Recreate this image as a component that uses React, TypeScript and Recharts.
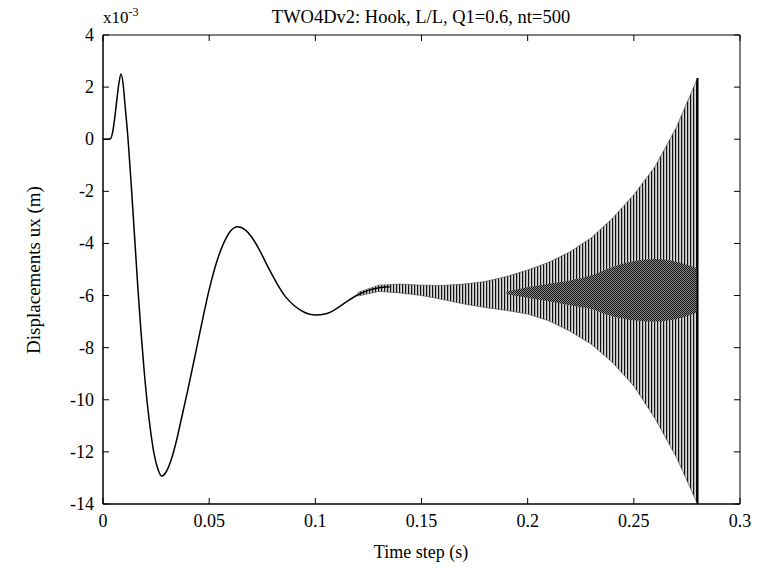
import React from 'react';
import { ComposedChart, Line, Area, XAxis, YAxis } from 'recharts';

// smooth response before the instability sets in (ux in 1e-3 m)
const curveTime = [
  0, 0.002, 0.0035, 0.0045, 0.0055, 0.0065, 0.0075, 0.0085, 0.0095, 0.0105,
  0.0118, 0.0135, 0.015, 0.0165, 0.018, 0.0195, 0.021, 0.0225, 0.024, 0.0258,
  0.0276, 0.0295, 0.032, 0.0345, 0.037, 0.04, 0.0435, 0.047, 0.05, 0.0535,
  0.057, 0.06, 0.0634, 0.067, 0.07, 0.074, 0.078, 0.082, 0.086, 0.09, 0.095,
  0.1, 0.105, 0.11, 0.115, 0.12, 0.125, 0.13, 0.135,
];
const curveValue = [
  0, 0, 0.02, 0.25, 0.8, 1.5, 2.15, 2.5, 2.1, 1.2,
  0, -2.0, -3.9, -5.8, -7.5, -9.0, -10.25, -11.25, -12.05, -12.65,
  -12.93, -12.8, -12.33, -11.6, -10.7, -9.6, -8.25, -6.88, -5.77, -4.72,
  -3.96, -3.53, -3.36, -3.48, -3.75, -4.3, -4.95, -5.55, -6.05, -6.38, -6.65,
  -6.75, -6.7, -6.5, -6.22, -5.97, -5.8, -5.7, -5.66,
];

// envelope of the step-to-step oscillation
const bandTime = [0.12, 0.13, 0.14, 0.15, 0.16, 0.17, 0.18, 0.19, 0.2, 0.21, 0.22, 0.23, 0.24, 0.25, 0.26, 0.27, 0.28];
const bandTop = [-5.88, -5.6, -5.56, -5.6, -5.61, -5.56, -5.46, -5.27, -5.02, -4.72, -4.32, -3.78, -3.03, -2.13, -1.05, 0.45, 2.35];
const bandBottom = [-6.02, -5.84, -5.9, -6.0, -6.15, -6.32, -6.46, -6.57, -6.71, -6.97, -7.37, -7.87, -8.57, -9.47, -10.72, -12.2, -14];

// dense core of the oscillation
const coreTime = [0.19, 0.2, 0.21, 0.22, 0.23, 0.24, 0.25, 0.26, 0.27, 0.28];
const coreTop = [-5.85, -5.68, -5.55, -5.42, -5.22, -4.9, -4.68, -4.6, -4.7, -4.95];
const coreBottom = [-5.95, -6.08, -6.22, -6.37, -6.52, -6.8, -6.95, -7.0, -6.9, -6.65];

// last time step drawn as a full swing
const lastStepTime = [0.28, 0.28];
const lastStepValue = [2.35, -14];

const xTicks = [0, 0.05, 0.1, 0.15, 0.2, 0.25, 0.3];
const yTicks = [-14, -12, -10, -8, -6, -4, -2, 0, 2, 4];

const curve = curveTime.map((t, i) => ({ t, ux: curveValue[i] }));
const band = bandTime.map((t, i) => ({ t, range: [bandBottom[i], bandTop[i]] }));
const core = coreTime.map((t, i) => ({ t, range: [coreBottom[i], coreTop[i]] }));
const lastStep = lastStepTime.map((t, i) => ({ t, ux: lastStepValue[i] }));

const FONT = '"Liberation Serif", "Times New Roman", serif';
const TICK_LEN = 6;

const BottomTick = (props: any) => {
  const { x, y, payload } = props;
  return (
    <g>
      <line x1={x} y1={y} x2={x} y2={y - TICK_LEN} stroke="#000" />
      <text x={x} y={y + 23} textAnchor="middle" fontFamily={FONT} fontSize={18} fill="#000">
        {payload.value}
      </text>
    </g>
  );
};

const LeftTick = (props: any) => {
  const { x, y, payload } = props;
  return (
    <g>
      <line x1={x} y1={y} x2={x + TICK_LEN} y2={y} stroke="#000" />
      <text x={x - 9} y={y + 6} textAnchor="end" fontFamily={FONT} fontSize={18} fill="#000">
        {payload.value}
      </text>
    </g>
  );
};

const TopTick = (props: any) => {
  const { x, y } = props;
  return <line x1={x} y1={y} x2={x} y2={y + TICK_LEN} stroke="#000" />;
};

const RightTick = (props: any) => {
  const { x, y } = props;
  return <line x1={x} y1={y} x2={x - TICK_LEN} y2={y} stroke="#000" />;
};

export default function App() {
  return (
    <div style={{ position: 'absolute', left: 0, top: 0, width: 760, height: 575, background: '#fff' }}>
      <ComposedChart width={760} height={575} margin={{ top: 25, right: 10, bottom: 41, left: 63 }}>
        <defs>
          <pattern id="hatch" width="3" height="4" patternUnits="userSpaceOnUse">
            <rect width="3" height="4" fill="#d8d8d8" />
            <rect width="1.2" height="4" fill="#111" />
          </pattern>
          <pattern id="dense" width="2" height="2" patternUnits="userSpaceOnUse">
            <rect width="2" height="2" fill="#8a8a8a" />
            <rect width="1" height="1" fill="#111" />
            <rect x="1" y="1" width="1" height="1" fill="#111" />
          </pattern>
        </defs>
        <XAxis
          dataKey="t"
          type="number"
          domain={[0, 0.3]}
          ticks={xTicks}
          height={30}
          tickSize={0}
          tickMargin={0}
          tickLine={false}
          tick={<BottomTick />}
          axisLine={{ stroke: '#000', strokeWidth: 1.5 }}
          allowDataOverflow
        />
        <XAxis
          xAxisId="top"
          orientation="top"
          dataKey="t"
          type="number"
          domain={[0, 0.3]}
          ticks={xTicks}
          height={10}
          tickSize={0}
          tickMargin={0}
          tickLine={false}
          tick={<TopTick />}
          axisLine={{ stroke: '#000' }}
          allowDataOverflow
        />
        <YAxis
          type="number"
          domain={[-14, 4]}
          ticks={yTicks}
          width={40}
          tickSize={0}
          tickMargin={0}
          tickLine={false}
          tick={<LeftTick />}
          axisLine={{ stroke: '#000', strokeWidth: 1.5 }}
          allowDataOverflow
        />
        <YAxis
          yAxisId="right"
          orientation="right"
          type="number"
          domain={[-14, 4]}
          ticks={yTicks}
          width={10}
          tickSize={0}
          tickMargin={0}
          tickLine={false}
          tick={<RightTick />}
          axisLine={{ stroke: '#000' }}
          allowDataOverflow
        />
        <Area
          data={band}
          dataKey="range"
          type="linear"
          fill="url(#hatch)"
          fillOpacity={1}
          stroke="#444"
          strokeWidth={0.6}
          isAnimationActive={false}
          dot={false}
          activeDot={false}
        />
        <Area
          data={core}
          dataKey="range"
          type="monotone"
          fill="url(#dense)"
          fillOpacity={1}
          stroke="none"
          isAnimationActive={false}
          dot={false}
          activeDot={false}
        />
        <Line
          data={curve}
          dataKey="ux"
          type="monotone"
          stroke="#000"
          strokeWidth={1.5}
          dot={false}
          activeDot={false}
          isAnimationActive={false}
        />
        <Line
          data={lastStep}
          dataKey="ux"
          type="linear"
          stroke="#000"
          strokeWidth={2}
          dot={false}
          activeDot={false}
          isAnimationActive={false}
        />
      </ComposedChart>
      <svg width={760} height={575} style={{ position: 'absolute', left: 0, top: 0, pointerEvents: 'none' }}>
        <text x={421} y={23} textAnchor="middle" fontFamily={FONT} fontSize={18.5} fill="#000">
          TWO4Dv2: Hook, L/L, Q1=0.6, nt=500
        </text>
        <text x={103} y={23} fontFamily={FONT} fontSize={17} fill="#000">
          x10<tspan dy={-7} fontSize={12}>-3</tspan>
        </text>
        <text x={421} y={558} textAnchor="middle" fontFamily={FONT} fontSize={18} fill="#000">
          Time step (s)
        </text>
        <text
          x={40}
          y={270}
          textAnchor="middle"
          fontFamily={FONT}
          fontSize={19}
          fill="#000"
          transform="rotate(-90 40 270)"
        >
          Displacements ux (m)
        </text>
      </svg>
    </div>
  );
}
